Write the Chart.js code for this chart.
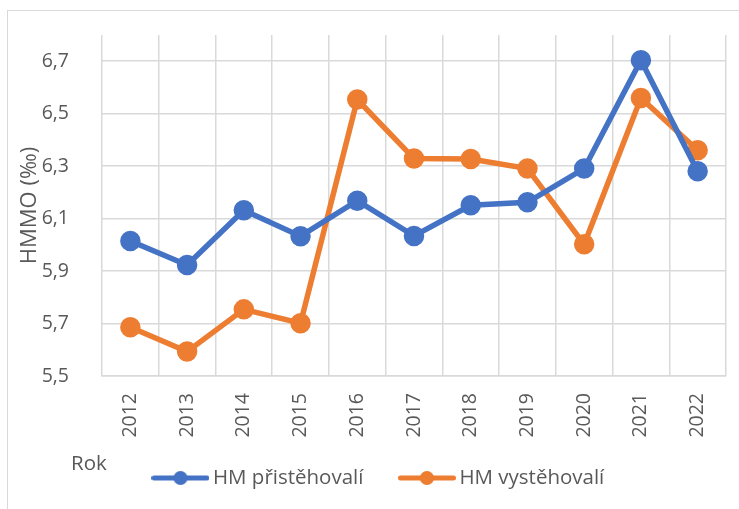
<!DOCTYPE html>
<html>
<head>
<meta charset="utf-8">
<script src="https://cdn.jsdelivr.net/npm/chart.js@4.4.1/dist/chart.umd.min.js"></script>
<style>
  body { margin: 0; background: #fff; overflow: hidden; }
  #frame { position: absolute; left: 7px; top: 10px; width: 800px; height: 560px; border: 1px solid #d9d9d9; }
  #wrap { position: absolute; left: 0; top: 0; width: 739px; height: 509px; }
</style>
</head>
<body>
<div id="frame"></div>
<div id="wrap"><canvas id="chart"></canvas></div>
<script>
// data
var years = ['2012', '2013', '2014', '2015', '2016', '2017', '2018', '2019', '2020', '2021', '2022'];
var prist = [6.015, 5.923, 6.132, 6.033, 6.168, 6.034, 6.151, 6.162, 6.291, 6.704, 6.281];
var vyst = [5.686, 5.593, 5.754, 5.701, 6.554, 6.329, 6.327, 6.291, 6.002, 6.560, 6.361];
var yTicks = [5.5, 5.7, 5.9, 6.1, 6.3, 6.5, 6.7];

var blue = '#4472C4';
var orange = '#ED7D31';
var textCol = '#595959';
var gridCol = '#d9d9d9';
var fontName = '"Open Sans", sans-serif';

// legend marker: line with a dot, like the office legend
function legendMark(col) {
  var c = document.createElement('canvas');
  c.width = 58;
  c.height = 16;
  var g = c.getContext('2d');
  g.strokeStyle = col;
  g.lineWidth = 5;
  g.lineCap = 'round';
  g.beginPath();
  g.moveTo(2.5, 8);
  g.lineTo(55.5, 8);
  g.stroke();
  g.fillStyle = col;
  g.beginPath();
  g.arc(29, 8, 7, 0, Math.PI * 2);
  g.fill();
  return c;
}

var rokLabel = {
  id: 'rokLabel',
  beforeDraw: function(chart) {
    // let the rotated year labels run past the axis box
    chart.scales.x._computeLabelArea = function() { return undefined; };
  },
  afterDraw: function(chart) {
    var ctx = chart.ctx;
    ctx.save();
    ctx.fillStyle = textCol;
    ctx.font = '20.5px ' + fontName;
    ctx.textAlign = 'left';
    ctx.textBaseline = 'middle';
    ctx.fillText('Rok', 71, 464);
    ctx.restore();
  }
};

var ctx = document.getElementById('chart').getContext('2d');
new Chart(ctx, {
  type: 'line',
  data: {
    labels: years,
    datasets: [{
      label: 'HM přistěhovalí',
      data: prist,
      borderColor: blue,
      backgroundColor: blue,
      borderWidth: 5.5,
      pointRadius: 7.5,
      pointHoverRadius: 7.5,
      tension: 0
    }, {
      label: 'HM vystěhovalí',
      data: vyst,
      borderColor: orange,
      backgroundColor: orange,
      borderWidth: 5.5,
      pointRadius: 7.5,
      pointHoverRadius: 7.5,
      tension: 0
    }]
  },
  options: {
    responsive: true,
    maintainAspectRatio: false,
    animation: false,
    layout: { padding: { left: 34.5, right: 11, top: 35, bottom: 10.75 } },
    plugins: {
      legend: {
        position: 'bottom',
        labels: {
          color: textCol,
          font: { family: fontName, size: 20.5 },
          usePointStyle: true,
          pointStyleWidth: 44.5,
          padding: 41.25,
          generateLabels: function(chart) {
            return chart.data.datasets.map(function(ds, i) {
              return {
                text: ds.label,
                fontColor: textCol,
                pointStyle: legendMark(ds.borderColor),
                datasetIndex: i,
                lineWidth: 0
              };
            });
          }
        }
      },
      tooltip: { enabled: false }
    },
    scales: {
      x: {
        offset: true,
        grid: { color: gridCol, lineWidth: 1.5, drawTicks: false, offset: true },
        border: { color: gridCol, width: 1.5 },
        ticks: {
          color: textCol,
          font: { family: fontName, size: 19.5 },
          minRotation: 90,
          maxRotation: 90,
          padding: 17
        },
        afterFit: function(s) { s.height = 50.5; }
      },
      y: {
        min: 5.5,
        max: 6.8,
        grid: { color: gridCol, lineWidth: 1.5, drawTicks: false },
        border: { display: false },
        ticks: {
          color: textCol,
          font: { family: fontName, size: 19.5 },
          padding: 33,
          callback: function(v) { return v.toFixed(1).replace('.', ','); }
        },
        afterBuildTicks: function(s) {
          s.ticks = yTicks.map(function(v) { return { value: v }; });
        },
        afterFit: function(s) {
          s.width = 67.5;
          s.paddingTop = 0;
          s.paddingBottom = 0;
        },
        title: {
          display: true,
          text: 'HMMO (‰)',
          color: textCol,
          font: { family: fontName, size: 22 },
          padding: { top: -17.7, bottom: 0 }
        }
      }
    }
  },
  plugins: [rokLabel]
});
</script>
</body>
</html>
